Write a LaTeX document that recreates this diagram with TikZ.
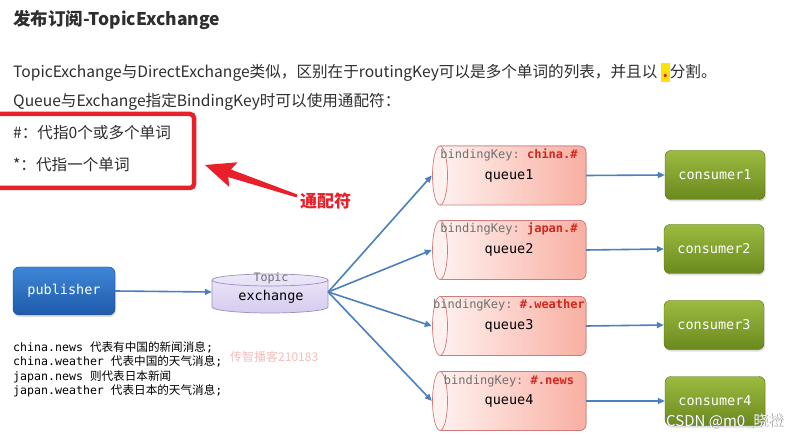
\documentclass[tikz,border=0pt]{standalone}
\usepackage{fontspec}
\setmainfont{Noto Sans CJK SC}
\setmonofont{DejaVu Sans Mono}
\newfontfamily\cjk{Noto Sans CJK SC}
\usetikzlibrary{arrows.meta,shadows}
\definecolor{txt}{HTML}{2E2E2E}
\definecolor{flowblue}{HTML}{4A7FC0}
\definecolor{alertred}{HTML}{E8202A}
\definecolor{hlyellow}{HTML}{FFE200}
\definecolor{pubtop}{HTML}{3F86D8}
\definecolor{pubbot}{HTML}{1F5AAA}
\definecolor{contop}{HTML}{9CBA40}
\definecolor{conbot}{HTML}{6A8A1E}
\definecolor{qleft}{HTML}{FFF1EF}
\definecolor{qright}{HTML}{F8AFA2}
\definecolor{qborder}{HTML}{D07C7C}
\definecolor{extop}{HTML}{EEE8FA}
\definecolor{exbot}{HTML}{D6CBEF}
\definecolor{exborder}{HTML}{9D90C0}
\definecolor{keyred}{HTML}{D0281E}
\definecolor{keygray}{HTML}{707070}
\definecolor{wmpink}{HTML}{F6BDBD}
\newcommand\hldot{{\setlength{\fboxsep}{0pt}\colorbox{hlyellow}{\makebox[9pt]{\rule[-4pt]{0pt}{19pt}\textcolor{alertred}{\bfseries.}}}}}
\begin{document}
\begin{tikzpicture}[x=1pt,y=-1pt,
  bodytext/.style={anchor=base west, inner sep=0, text=txt, font=\fontsize{15.6}{18}\selectfont},
  monotext/.style={anchor=base west, inner sep=0, text=black, font=\ttfamily\fontsize{11.6}{14}\selectfont},
  flow/.style={draw=flowblue, line width=1.6, -{Triangle[length=7pt,width=6pt]}},
  pubbox/.style={rounded corners=6, top color=pubtop, bottom color=pubbot, draw=pubbot!80!black, line width=0.4,
     minimum width=102, minimum height=48, text=white, font=\ttfamily\fontsize{13.5}{16}\selectfont,
     drop shadow={shadow xshift=1pt, shadow yshift=-2pt, opacity=0.25}},
  conbox/.style={rounded corners=6, top color=contop, bottom color=conbot, draw=conbot!80!black, line width=0.4,
     minimum width=100, minimum height=49, text=white, font=\ttfamily\fontsize{13.5}{16}\selectfont,
     drop shadow={shadow xshift=1pt, shadow yshift=-2pt, opacity=0.25}},
  qlabel/.style={inner sep=0, minimum width=154, minimum height=59, font=\ttfamily\fontsize{13.5}{16}\selectfont},
  keytext/.style={anchor=base, inner sep=0, font=\ttfamily\fontsize{12}{14}\selectfont}
]
\useasboundingbox (0,0) rectangle (800,435);
\fill[white] (0,0) rectangle (800,435);

% ---- header texts
\node[anchor=base west, inner sep=0, text=txt, font=\bfseries\fontsize{17.5}{20}\selectfont] (title) at (13,26) {发布订阅-TopicExchange};
\node[bodytext] (line1) at (13,78) {TopicExchange与DirectExchange类似，区别在于routingKey可以是多个单词的列表，并且以 \hldot 分割。};
\node[bodytext] (line2) at (13,107) {Queue与Exchange指定BindingKey时可以使用通配符：};
\node[bodytext] (hash) at (13,139) {\#：代指0个或多个单词};
\node[bodytext] (star) at (13,171) {*：代指一个单词};

% ---- red box and arrow
\draw[alertred, line width=4.5, rounded corners=4] (-10,114) rectangle (194,188);
\fill[alertred] (205,165) -- (237.6,162.3) -- (230.9,169.5) -- (297.5,194.6) -- (296.5,197.4) -- (228.3,177.1) -- (229.2,186.9) -- cycle;
\node[anchor=base west, inner sep=0, text=alertred, font=\bfseries\fontsize{17}{20}\selectfont] (wild) at (300,208) {通配符};

% ---- publisher
\node[pubbox] (pub) at (64,291) {publisher};

% ---- exchange cylinder
\path[top color=extop, bottom color=exbot] (212,280) -- (212,307) arc[start angle=180, end angle=0, x radius=58, y radius=6] -- (328,280) arc[start angle=0, end angle=-180, x radius=58, y radius=6] -- cycle;
\draw[exborder, line width=0.7] (212,280) -- (212,307) arc[start angle=180, end angle=0, x radius=58, y radius=6] -- (328,280);
\draw[exborder, line width=0.7] (270,280) ellipse[x radius=58, y radius=6];
\node[inner sep=0, minimum width=116, minimum height=38] (ex) at (270,292) {};
\node[anchor=base, inner sep=0, text=keygray, font=\ttfamily\fontsize{11.6}{14}\selectfont] (topic) at (271,282) {Topic};
\node[anchor=base, inner sep=0, text=black, font=\ttfamily\fontsize{13.5}{16}\selectfont] (exl) at (271,301) {exchange};

\draw[flow] (pub.east) -- (ex.west);

% ---- queues
\foreach \i/\yc/\key in {1/175.5/china.\#, 2/250/japan.\#, 3/326/\#.weather, 4/401/\#.news}{
  \pgfmathsetmacro{\top}{\yc-29.5}
  \pgfmathsetmacro{\bot}{\yc+29.5}
  \fill[left color=qleft, right color=qright] (440,\top) -- (580,\top) arc[start angle=270, end angle=360, radius=6] -- (586,\bot-6) arc[start angle=0, end angle=90, radius=6] -- (440,\bot) -- cycle;
  \draw[qborder, line width=0.7] (440,\top) -- (580,\top) arc[start angle=270, end angle=360, radius=6] -- (586,\bot-6) arc[start angle=0, end angle=90, radius=6] -- (440,\bot);
  \draw[qborder, line width=0.7, fill=qleft] (440,\yc) ellipse[x radius=7.5, y radius=29.5];
  \node[qlabel] (q\i) at (509,\yc) {queue\i};
  \node[keytext] (k\i) at (509,\yc-17) {\textcolor{keygray}{bindingKey:} \textcolor{keyred}{\bfseries\key}};
  \draw[flow] (ex.east) -- (q\i.west);
}

% ---- consumers
\node[conbox] (c1) at (715,175) {consumer1};
\node[conbox] (c2) at (714,249) {consumer2};
\node[conbox] (c3) at (714,325) {consumer3};
\node[conbox] (c4) at (715,401) {consumer4};
\foreach \i in {1,2,3,4}{ \draw[flow] (q\i.east) -- (c\i.west); }

% ---- example routing keys
\node[monotext] (m1) at (13,352) {china.news {\cjk 代表有中国的新闻消息};};
\node[monotext] (m2) at (13,366) {china.weather {\cjk 代表中国的天气消息};};
\node[monotext] (m3) at (13,380) {japan.news {\cjk 则代表日本新闻}};
\node[monotext] (m4) at (13,394) {japan.weather {\cjk 代表日本的天气消息};};

% ---- watermarks
\node[anchor=base west, inner sep=0, text=wmpink, font=\fontsize{12}{14}\selectfont] (wm1) at (230,361) {传智播客210183};
\node[anchor=base west, inner sep=0, text=black!55, font=\fontsize{15}{18}\selectfont] (wm2s) at (666.6,426.6) {CSDN @m0\_晓橙};
\node[anchor=base west, inner sep=0, text=white, font=\fontsize{15}{18}\selectfont] (wm2) at (666,426) {CSDN @m0\_晓橙};
\end{tikzpicture}
\end{document}
